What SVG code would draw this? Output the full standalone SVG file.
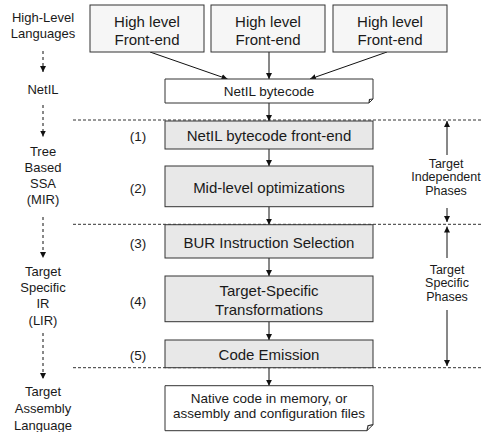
<svg xmlns="http://www.w3.org/2000/svg" width="482" height="432" viewBox="0 0 482 432">
<style>
text{font-family:"Liberation Sans",Arial,sans-serif;fill:#1a1a1a;text-anchor:middle}
.box{stroke:#333;stroke-width:1}
.top{fill:#f6f6f6}
.ph{fill:#e8e8e8}
.doc{fill:#fff;stroke:#333;stroke-width:1}
.b15{font-size:15px}
.l13{font-size:13px}
.d13{font-size:13.5px}
.r13{font-size:12.5px}
.sep{stroke:#333;stroke-width:1;stroke-dasharray:3,2;fill:none}
.arr{stroke:#111;stroke-width:1;fill:none;marker-end:url(#ah)}
.darr{stroke:#111;stroke-width:1;fill:none;stroke-dasharray:3,3;marker-end:url(#ah)}
</style>
<defs>
<marker id="ah" markerUnits="userSpaceOnUse" markerWidth="7" markerHeight="6" refX="6" refY="3" orient="auto">
<path d="M0,0 L6,3 L0,6 z" fill="#111"/>
</marker>
</defs>
<rect width="482" height="432" fill="#fff"/>
<g id="separators">
<line class="sep" x1="73" y1="120" x2="482" y2="120"/>
<line class="sep" x1="73" y1="224.3" x2="482" y2="224.3"/>
<line class="sep" x1="73" y1="367.7" x2="482" y2="367.7"/>
</g>
<g id="connectors">
<line class="arr" x1="150" y1="52" x2="227.5" y2="79"/>
<line class="arr" x1="269" y1="52" x2="269" y2="79"/>
<line class="arr" x1="387" y1="52" x2="310" y2="79"/>
<line class="arr" x1="269" y1="103" x2="269" y2="121"/>
<line class="arr" x1="269" y1="149" x2="269" y2="166"/>
<line class="arr" x1="269" y1="206.7" x2="269" y2="224.7"/>
<line class="arr" x1="269" y1="258" x2="269" y2="276"/>
<line class="arr" x1="269" y1="321.7" x2="269" y2="340"/>
<line class="arr" x1="269" y1="367.7" x2="269" y2="385.7"/>
<line class="darr" x1="43" y1="51" x2="43" y2="72"/>
<line class="darr" x1="43" y1="105" x2="43" y2="136.5"/>
<line class="darr" x1="43" y1="217" x2="43" y2="258"/>
<line class="darr" x1="43" y1="333" x2="43" y2="379"/>
<line class="arr" x1="447" y1="155" x2="447" y2="121"/>
<line class="arr" x1="447" y1="208" x2="447" y2="222"/>
<line class="arr" x1="447" y1="258" x2="447" y2="226.5"/>
<line class="arr" x1="447" y1="310" x2="447" y2="366"/>
</g>
<g id="fe1"><rect class="box top" x="90" y="5" width="114" height="47"/><text class="b15" x="147" y="27">High level</text><text class="b15" x="147" y="44.7">Front-end</text></g>
<g id="fe2"><rect class="box top" x="211" y="5" width="114" height="47"/><text class="b15" x="268" y="27">High level</text><text class="b15" x="268" y="44.7">Front-end</text></g>
<g id="fe3"><rect class="box top" x="333" y="5" width="114" height="47"/><text class="b15" x="390" y="27">High level</text><text class="b15" x="390" y="44.7">Front-end</text></g>
<g id="netil"><path class="doc" d="M165,79 H373 V99 L369,103 H165 Z"/><path d="M369,103 L369.5,99.5 L373,99" fill="none" stroke="#333" stroke-width="1.2"/><text class="d13" x="269" y="95.6">NetIL bytecode</text></g>
<g id="p1"><rect class="box ph" x="165" y="121" width="208" height="28"/><text class="b15" x="269" y="141.4">NetIL bytecode front-end</text></g>
<g id="p2"><rect class="box ph" x="165" y="166" width="208" height="40.7"/><text class="b15" x="269" y="193.4">Mid-level optimizations</text></g>
<g id="p3"><rect class="box ph" x="165" y="224.7" width="208" height="33.3"/><text class="b15" x="269" y="248.1">BUR Instruction Selection</text></g>
<g id="p4"><rect class="box ph" x="165" y="276" width="208" height="45.7"/><text class="b15" x="269" y="296.4">Target-Specific</text><text class="b15" x="269" y="314.7">Transformations</text></g>
<g id="p5"><rect class="box ph" x="165" y="340" width="208" height="27.7"/><text class="b15" x="269" y="360.4">Code Emission</text></g>
<g id="native"><path class="doc" d="M165,385.7 H373 V424.7 L367,430.7 H165 Z"/><path d="M367,430.7 L368,425.7 L373,424.7" fill="none" stroke="#333" stroke-width="1.2"/><text class="d13" x="269" y="403.2">Native code in memory, or</text><text class="d13" x="269" y="418.2">assembly and configuration files</text></g>
<g id="numbers">
<text class="d13" x="138" y="140.9">(1)</text>
<text class="d13" x="138" y="192.9">(2)</text>
<text class="d13" x="138" y="247.6">(3)</text>
<text class="d13" x="138" y="305.9">(4)</text>
<text class="d13" x="138" y="359.9">(5)</text>
</g>
<g id="levels">
<text class="l13" x="43" y="22">High-Level</text>
<text class="l13" x="43" y="38">Languages</text>
<text class="l13" x="43" y="94">NetIL</text>
<text class="l13" x="43" y="156.4">Tree</text>
<text class="l13" x="43" y="172">Based</text>
<text class="l13" x="43" y="188">SSA</text>
<text class="l13" x="43" y="203.7">(MIR)</text>
<text class="l13" x="43" y="276.4">Target</text>
<text class="l13" x="43" y="292.2">Specific</text>
<text class="l13" x="43" y="308">IR</text>
<text class="l13" x="43" y="324.7">(LIR)</text>
<text class="l13" x="43" y="396.4">Target</text>
<text class="l13" x="43" y="413">Assembly</text>
<text class="l13" x="43" y="429.5">Language</text>
</g>
<g id="phases">
<text class="r13" x="446" y="167.8">Target</text>
<text class="r13" x="446" y="181.2">Independent</text>
<text class="r13" x="446" y="194.5">Phases</text>
<text class="r13" x="447" y="273.8">Target</text>
<text class="r13" x="447" y="287.1">Specific</text>
<text class="r13" x="447" y="300.5">Phases</text>
</g>
</svg>
